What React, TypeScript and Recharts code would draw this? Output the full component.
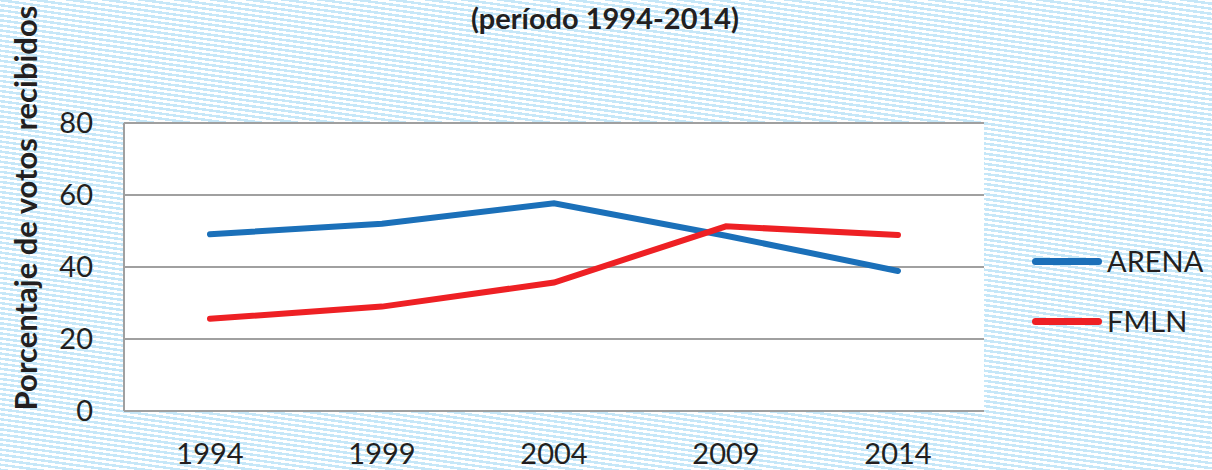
import React from "react";
import { LineChart, Line, XAxis, YAxis, CartesianGrid } from "recharts";

const years = ["1994", "1999", "2004", "2009", "2014"];
const arena = [49.1, 52.0, 57.7, 48.7, 38.9];
const fmln = [25.6, 29.0, 35.7, 51.3, 48.9];
const yTicks = [0, 20, 40, 60, 80];
const seriesNames = ["ARENA", "FMLN"];
const seriesColors = ["#1b70b9", "#ee2024"];
const titleText = "(período 1994-2014)";
const yLabelText = "Porcentaje de votos recibidos";

const data = years.map((y, i) => ({ year: y, ARENA: arena[i], FMLN: fmln[i] }));

const FONT = "Lato, 'Open Sans', sans-serif";
const TEXT = "#231f20";

export default function App() {
  return (
    <div
      style={{
        position: "relative",
        width: 1212,
        height: 470,
        overflow: "hidden",
        background:
          "repeating-linear-gradient(188deg, #ffffff 0px, #ffffff 2.5px, #c6e7f8 2.5px, #c6e7f8 5px)",
      }}
    >
      <style>{`body{margin:0}`}</style>
      <LineChart
        width={1212}
        height={470}
        data={data}
        margin={{ top: 123, right: 228, bottom: 0, left: 0 }}
      >
        <CartesianGrid vertical={false} stroke="#a0a0a0" strokeWidth={2} fill="#ffffff" />
        <XAxis
          dataKey="year"
          height={59}
          padding={{ left: 86, right: 86 }}
          tickSize={0}
          tickMargin={32}
          axisLine={{ stroke: "#a0a0a0", strokeWidth: 2 }}
          tick={{ fill: TEXT, fontSize: 29, fontFamily: FONT }}
        />
        <YAxis
          width={124}
          domain={[0, 80]}
          ticks={yTicks}
          tickSize={0}
          tickMargin={31}
          axisLine={{ stroke: "#a0a0a0", strokeWidth: 2 }}
          tick={{ fill: TEXT, fontSize: 29, fontFamily: FONT }}
        />
        <Line
          type="linear"
          dataKey="ARENA"
          stroke={seriesColors[0]}
          strokeWidth={6}
          strokeLinecap="round"
          dot={false}
          isAnimationActive={false}
        />
        <Line
          type="linear"
          dataKey="FMLN"
          stroke={seriesColors[1]}
          strokeWidth={6}
          strokeLinecap="round"
          dot={false}
          isAnimationActive={false}
        />
      </LineChart>
      <div style={{ position: "absolute", left: 1032, top: 231, fontFamily: FONT }}>
        {seriesNames.map((n, i) => (
          <div key={n} style={{ display: "flex", alignItems: "center", height: 60 }}>
            <div style={{ width: 70, height: 7, borderRadius: 4, background: seriesColors[i], marginRight: 5 }} />
            <span style={{ fontSize: 29, color: TEXT, lineHeight: "30px" }}>{n}</span>
          </div>
        ))}
      </div>
      <svg
        width={1212}
        height={470}
        style={{ position: "absolute", left: 0, top: 0, pointerEvents: "none" }}
      >
        <text
          x={605}
          y={29}
          textAnchor="middle"
          fontFamily={FONT}
          fontWeight="bold"
          fontSize={29}
          fill={TEXT}
        >
          {titleText}
        </text>
        <text
          transform="translate(37,208) rotate(-90)"
          textAnchor="middle"
          fontFamily={FONT}
          fontWeight="bold"
          fontSize={31}
          fill={TEXT}
        >
          {yLabelText}
        </text>
      </svg>
    </div>
  );
}
